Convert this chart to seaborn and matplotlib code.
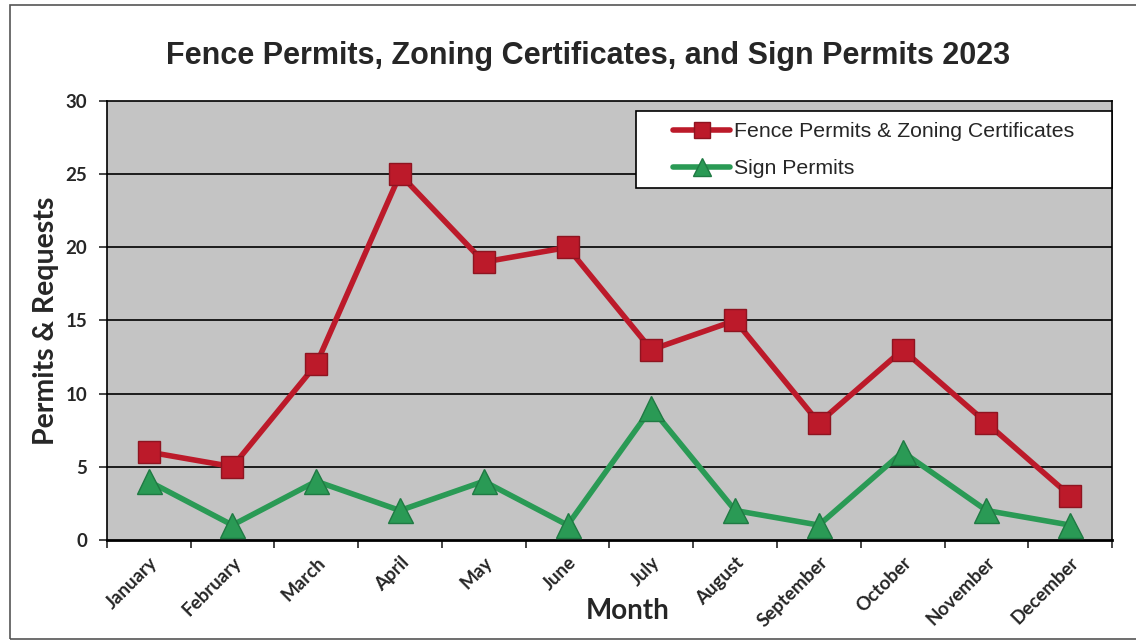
import numpy as np
import pandas as pd
import matplotlib
matplotlib.use("Agg")
import matplotlib.pyplot as plt
import seaborn as sns
from matplotlib.patches import Rectangle

months = ["January", "February", "March", "April", "May", "June",
          "July", "August", "September", "October", "November", "December"]
fence = [6, 5, 12, 25, 19, 20, 13, 15, 8, 13, 8, 3]
sign = [4, 1, 4, 2, 4, 1, 9, 2, 1, 6, 2, 1]
yticks = [0, 5, 10, 15, 20, 25, 30]

RED = "#BC1A2A"
RED_EDGE = "#8E1420"
GREEN = "#2A9A55"
GREEN_EDGE = "#1F7A43"

sns.set_theme(style="white")
plt.rcParams["font.family"] = ["Liberation Sans", "DejaVu Sans"]

df = pd.DataFrame({"pos": np.arange(len(months)), "fence": fence, "sign": sign})

W, H = 1136, 641
fig = plt.figure(figsize=(W / 100, H / 100), dpi=100)
fig.patch.set_facecolor("white")
ax = fig.add_axes([0.094, 0.158, 0.885, 0.684])
ax.set_facecolor("#C4C4C4")

for y in yticks[1:-1]:
    ax.axhline(y, color="black", lw=1.2, zorder=1)

sns.lineplot(data=df, x="pos", y="fence", ax=ax, color=RED, lw=4,
             marker="s", markersize=16, markerfacecolor=RED, markeredgecolor=RED_EDGE,
             markeredgewidth=1, label="Fence Permits & Zoning Certificates", zorder=3)
sns.lineplot(data=df, x="pos", y="sign", ax=ax, color=GREEN, lw=4,
             marker="^", markersize=18, markerfacecolor=GREEN, markeredgecolor=GREEN_EDGE,
             markeredgewidth=1, label="Sign Permits", zorder=3)

ax.set_xlim(-0.5, len(months) - 0.5)
ax.set_ylim(0, 30)
ax.set_yticks(yticks)
ax.set_yticklabels([str(v) for v in yticks], fontsize=13.5, fontweight="bold", family="Lato")
ax.set_xticks(np.arange(len(months)))
ax.set_xticklabels(months, rotation=45, ha="right", rotation_mode="anchor",
                   fontsize=13.5, fontweight="bold", family="Lato")
ax.set_xticks(np.arange(-0.5, len(months)), minor=True)
ax.tick_params(axis="x", which="major", length=0, pad=10)
ax.tick_params(axis="x", which="minor", length=6, width=1.2, direction="out", bottom=True)
ax.tick_params(axis="y", length=6, width=1.2, direction="out", left=True, pad=8)

for side in ["top", "right", "left", "bottom"]:
    ax.spines[side].set_visible(True)
    ax.spines[side].set_color("black")
    ax.spines[side].set_linewidth(1.2)
ax.spines["bottom"].set_linewidth(2)

ax.set_xlabel("Month", fontsize=20, fontweight="bold", family="Lato")
ax.xaxis.set_label_coords(0.518, -0.132)
ax.set_ylabel("Permits & Requests", fontsize=20.5, fontweight="bold", family="Lato")
ax.yaxis.set_label_coords(-0.048, 0.5)

fig.text(0.518, 0.913, "Fence Permits, Zoning Certificates, and Sign Permits 2023",
         ha="center", va="center", fontsize=22, fontweight="bold")

# legend: white box drawn separately so the padding matches the original
handles, labels = ax.get_legend_handles_labels()
ax.get_legend().remove()
fig.patches.append(Rectangle((636 / W, 1 - 188 / H), 476 / W, 77 / H,
                             transform=fig.transFigure, facecolor="white",
                             edgecolor="black", lw=1.2, zorder=4))
fig.legend(handles, labels, loc="upper left", bbox_to_anchor=(673 / W, 1 - 122 / H),
           bbox_transform=fig.transFigure, fontsize=15.3, frameon=False,
           handlelength=2.7, handletextpad=0.15, borderpad=0, borderaxespad=0,
           labelspacing=0.85, markerscale=0.7).set_zorder(5)

fig.patches.append(Rectangle((0.009, 0.003), 1.1, 0.989, transform=fig.transFigure,
                             fill=False, edgecolor="#555555", lw=1.2))

fig.savefig("out.png", dpi=100)
